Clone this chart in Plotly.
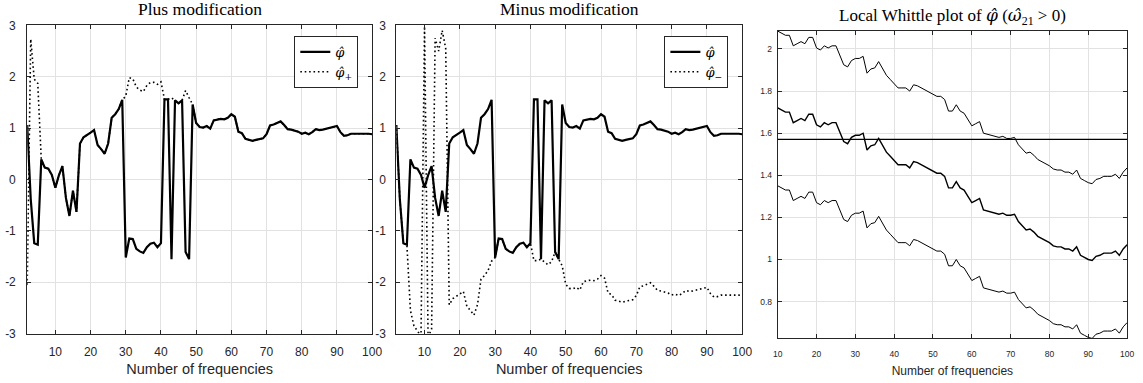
import math
import plotly.graph_objects as go

# ---------------- data ----------------
num_freq = list(range(2, 101))          # x for the first two panels
lw_freq = list(range(10, 101))          # x for the local Whittle panel

phi_hat = [
    1.06, -0.38, -1.24, -1.27, 0.39, 0.23, 0.21, 0.09, -0.16, 0.08,
    0.26, -0.36, -0.71, -0.22, -0.63, 0.70, 0.82, 0.86, 0.91, 0.96,
    0.67, 0.59, 0.50, 0.70, 1.20, 1.27, 1.37, 1.55, -1.52, -1.15,
    -1.16, -1.35, -1.40, -1.43, -1.32, -1.25, -1.23, -1.32, -1.24, 1.56,
    1.56, -1.55, 1.54, 1.48, 1.54, -1.41, -1.55, 1.46, 1.10, 1.02,
    1.01, 1.04, 0.99, 1.15, 1.17, 1.18, 1.17, 1.20, 1.27, 1.22,
    0.93, 0.90, 0.79, 0.77, 0.75, 0.77, 0.79, 0.80, 0.88, 1.05,
    1.07, 1.10, 1.13, 1.06, 0.98, 0.97, 0.95, 0.93, 0.89, 0.91,
    0.88, 0.92, 0.98, 0.96, 0.97, 0.99, 1.01, 1.03, 1.04, 0.92,
    0.85, 0.86, 0.89, 0.89, 0.89, 0.90, 0.89, 0.89, 0.88,
]

phi_plus = [
    -2.05, 2.73, 1.95, 1.87, 0.39, 0.23, 0.21, 0.09, -0.16, 0.08,
    0.26, -0.36, -0.71, -0.22, -0.63, 0.70, 0.82, 0.86, 0.91, 0.96,
    0.67, 0.59, 0.50, 0.70, 1.20, 1.27, 1.37, 1.55, 1.62, 1.98,
    1.96, 1.80, 1.74, 1.71, 1.83, 1.89, 1.89, 1.85, 1.90, 1.56,
    1.56, 1.59, 1.54, 1.48, 1.54, 1.73, 1.59, 1.46, 1.10, 1.02,
    1.01, 1.04, 0.99, 1.15, 1.17, 1.18, 1.17, 1.20, 1.27, 1.22,
    0.93, 0.90, 0.79, 0.77, 0.75, 0.77, 0.79, 0.80, 0.88, 1.05,
    1.07, 1.10, 1.13, 1.06, 0.98, 0.97, 0.95, 0.93, 0.89, 0.91,
    0.88, 0.92, 0.98, 0.96, 0.97, 0.99, 1.01, 1.03, 1.04, 0.92,
    0.85, 0.86, 0.89, 0.89, 0.89, 0.90, 0.89, 0.89, 0.88,
]

phi_minus = [
    1.06, -0.38, -1.24, -1.27, -2.55, -2.85, -2.95, -3.05, 2.98, -3.06,
    -2.92, 2.75, 2.50, 2.90, 2.55, -2.44, -2.32, -2.28, -2.23, -2.18,
    -2.47, -2.55, -2.64, -2.44, -1.94, -1.87, -1.77, -1.59, -1.52, -1.15,
    -1.16, -1.35, -1.40, -1.43, -1.32, -1.25, -1.23, -1.32, -1.24, -1.58,
    -1.58, -1.55, -1.60, -1.66, -1.60, -1.41, -1.55, -1.68, -2.04, -2.12,
    -2.13, -2.10, -2.15, -1.99, -1.97, -1.96, -1.97, -1.94, -1.87, -1.92,
    -2.21, -2.24, -2.35, -2.37, -2.39, -2.37, -2.35, -2.34, -2.26, -2.09,
    -2.07, -2.04, -2.01, -2.08, -2.16, -2.17, -2.19, -2.21, -2.25, -2.23,
    -2.26, -2.22, -2.16, -2.18, -2.17, -2.15, -2.13, -2.11, -2.10, -2.22,
    -2.29, -2.28, -2.25, -2.25, -2.25, -2.24, -2.25, -2.25, -2.26,
]

lw_estimate = [
    1.72, 1.71, 1.70, 1.70, 1.65, 1.66, 1.67, 1.66, 1.69, 1.69,
    1.64, 1.63, 1.65, 1.64, 1.65, 1.65, 1.60, 1.56, 1.55, 1.58,
    1.59, 1.59, 1.60, 1.52, 1.54, 1.545, 1.575, 1.54, 1.51, 1.49,
    1.47, 1.45, 1.45, 1.45, 1.435, 1.465, 1.46, 1.45, 1.44, 1.43,
    1.42, 1.41, 1.41, 1.395, 1.34, 1.34, 1.37, 1.34, 1.33, 1.30,
    1.27, 1.28, 1.29, 1.235, 1.23, 1.225, 1.22, 1.215, 1.22, 1.21,
    1.21, 1.215, 1.18, 1.16, 1.14, 1.145, 1.13, 1.11, 1.10, 1.09,
    1.08, 1.065, 1.06, 1.06, 1.05, 1.05, 1.04, 1.06, 1.02, 1.01,
    1.00, 0.995, 1.015, 1.02, 1.03, 1.03, 1.03, 1.04, 1.02, 1.05,
    1.07,
]

lw_upper = [
    2.085, 2.075, 2.065, 2.065, 2.015, 2.025, 2.035, 2.025, 2.055, 2.055,
    2.005, 1.995, 2.015, 2.005, 2.015, 2.015, 1.965, 1.925, 1.915, 1.945,
    1.955, 1.955, 1.965, 1.885, 1.905, 1.91, 1.94, 1.905, 1.875, 1.855,
    1.835, 1.815, 1.815, 1.815, 1.80, 1.83, 1.825, 1.815, 1.805, 1.795,
    1.785, 1.775, 1.775, 1.76, 1.705, 1.705, 1.735, 1.705, 1.695, 1.665,
    1.635, 1.645, 1.655, 1.60, 1.595, 1.59, 1.585, 1.58, 1.585, 1.575,
    1.575, 1.58, 1.545, 1.525, 1.505, 1.51, 1.495, 1.475, 1.465, 1.455,
    1.445, 1.43, 1.425, 1.425, 1.415, 1.415, 1.405, 1.425, 1.385, 1.375,
    1.365, 1.36, 1.38, 1.385, 1.395, 1.395, 1.395, 1.405, 1.385, 1.415,
    1.435,
]

lw_lower = [
    1.35, 1.34, 1.33, 1.33, 1.28, 1.29, 1.30, 1.29, 1.32, 1.32,
    1.27, 1.26, 1.28, 1.27, 1.28, 1.28, 1.23, 1.19, 1.18, 1.21,
    1.22, 1.22, 1.23, 1.15, 1.17, 1.175, 1.205, 1.17, 1.14, 1.12,
    1.10, 1.08, 1.08, 1.08, 1.065, 1.095, 1.09, 1.08, 1.07, 1.06,
    1.05, 1.04, 1.04, 1.025, 0.97, 0.97, 1.00, 0.97, 0.96, 0.93,
    0.90, 0.91, 0.92, 0.865, 0.86, 0.855, 0.85, 0.845, 0.85, 0.84,
    0.84, 0.845, 0.81, 0.79, 0.77, 0.775, 0.76, 0.74, 0.73, 0.72,
    0.71, 0.695, 0.69, 0.69, 0.68, 0.68, 0.67, 0.69, 0.65, 0.64,
    0.63, 0.625, 0.645, 0.65, 0.66, 0.66, 0.66, 0.67, 0.65, 0.68,
    0.70,
]

reference_level = math.pi / 2

phase_ticks = [-3, -2, -1, 0, 1, 2, 3]
phase_tick_text = ["-3", "-2", "-1", "0", "1", "2", "3"]
freq_ticks = [10, 20, 30, 40, 50, 60, 70, 80, 90, 100]
lw_y_ticks = [0.8, 1.0, 1.2, 1.4, 1.6, 1.8, 2.0]
lw_y_text = ["0.8", "1", "1.2", "1.4", "1.6", "1.8", "2"]

MATH = "font-family:DejaVu Serif"
phi_txt = f'<span style="{MATH}"><i>φ\u0302</i></span>'
omega_txt = f'<span style="{MATH}"><i>ω\u0302</i></span>'
titles = ["Plus modification", "Minus modification",
          f"Local Whittle plot of {phi_txt} ({omega_txt}<sub>21</sub> > 0)"]
legend_names = [f"<i>φ\u0302</i>", f"<i>φ\u0302</i><sub>+</sub>", f"<i>φ\u0302</i><sub>−</sub>"]
x_label = "Number of frequencies"

# ---------------- styling ----------------
W, H = 1143, 383
AX = "#262626"
GRID = "#e2e2e2"
SANS = "Liberation Sans, Arial, sans-serif"
SERIF = "Liberation Serif, Times New Roman, serif"
MATHFONT = "DejaVu Serif, serif"
DOT = "1.6px,2.8px"

def px_x(p):
    return p / W

def px_y(p):
    return 1 - p / H

fig = go.Figure()

# panel 1
fig.add_trace(go.Scatter(x=num_freq, y=phi_hat, mode="lines", name=legend_names[0],
                         line=dict(color="black", width=2.2), xaxis="x", yaxis="y", legend="legend"))
fig.add_trace(go.Scatter(x=num_freq, y=phi_plus, mode="lines", name=legend_names[1],
                         line=dict(color="black", width=1.6, dash=DOT), xaxis="x", yaxis="y", legend="legend"))
# panel 2
fig.add_trace(go.Scatter(x=num_freq, y=phi_hat, mode="lines", name=legend_names[0],
                         line=dict(color="black", width=2.2), xaxis="x2", yaxis="y2", legend="legend2"))
fig.add_trace(go.Scatter(x=num_freq, y=phi_minus, mode="lines", name=legend_names[2],
                         line=dict(color="black", width=1.6, dash=DOT), xaxis="x2", yaxis="y2", legend="legend2"))
# panel 3
fig.add_trace(go.Scatter(x=lw_freq, y=lw_upper, mode="lines", showlegend=False,
                         line=dict(color="black", width=1.0), xaxis="x3", yaxis="y3"))
fig.add_trace(go.Scatter(x=lw_freq, y=lw_estimate, mode="lines", showlegend=False,
                         line=dict(color="black", width=1.4), xaxis="x3", yaxis="y3"))
fig.add_trace(go.Scatter(x=lw_freq, y=lw_lower, mode="lines", showlegend=False,
                         line=dict(color="black", width=1.0), xaxis="x3", yaxis="y3"))

fig.add_shape(type="line", xref="x3 domain", yref="y3", x0=0, x1=1,
              y0=reference_level, y1=reference_level, line=dict(color="black", width=1.4))

def xaxis(domain, rng, anchor, fsize, tfsize, labstand, standoff):
    return dict(domain=domain, range=rng, anchor=anchor, tickvals=freq_ticks,
                ticks="inside", ticklen=4, tickcolor=AX, showline=True, linecolor=AX,
                linewidth=1, mirror="allticks", showgrid=True, gridcolor=GRID, gridwidth=1,
                zeroline=False, tickfont=dict(family=SANS, size=fsize, color=AX),
                ticklabelstandoff=labstand,
                title=dict(text=x_label, font=dict(family=SANS, size=tfsize, color=AX),
                           standoff=standoff))

def yaxis(domain, rng, anchor, vals, text, fsize, labstand):
    return dict(domain=domain, range=rng, anchor=anchor, tickvals=vals, ticktext=text,
                ticks="inside", ticklen=4, tickcolor=AX, showline=True, linecolor=AX,
                linewidth=1, mirror="allticks", showgrid=True, gridcolor=GRID, gridwidth=1,
                zeroline=False, tickfont=dict(family=SANS, size=fsize, color=AX),
                ticklabelstandoff=labstand)

d1 = [px_x(22.5), px_x(372)]
d2 = [px_x(396.5), px_x(747)]
d3 = [px_x(783), px_x(1137)]
yd12 = [px_y(339), px_y(19)]
yd3 = [px_y(344), px_y(25)]

legend_style = dict(xanchor="right", yanchor="top", bgcolor="white", bordercolor=AX,
                    borderwidth=1, font=dict(family=MATHFONT, size=13, color="black"),
                    tracegroupgap=0, itemwidth=30)

fig.update_layout(
    width=W, height=H,
    margin=dict(l=0, r=0, t=0, b=0),
    paper_bgcolor="white", plot_bgcolor="white",
    xaxis=xaxis(d1, [2, 100], "y", 12, 14.5, 7, 5),
    yaxis=yaxis(yd12, [-3, 3], "x", phase_ticks, phase_tick_text, 12, 8),
    xaxis2=xaxis(d2, [2, 100], "y2", 12, 14.5, 7, 5),
    yaxis2=yaxis(yd12, [-3, 3], "x2", phase_ticks, phase_tick_text, 12, 7),
    xaxis3=xaxis(d3, [10, 100], "y3", 8.5, 12, 7, 8),
    yaxis3=yaxis(yd3, [min(lw_lower), max(lw_upper)], "x3", lw_y_ticks, lw_y_text, 8.5, 3),
    legend=dict(x=px_x(358), y=px_y(30), **legend_style),
    legend2=dict(x=px_x(733), y=px_y(30), **legend_style),
    showlegend=True,
)

centers = [(d1[0] + d1[1]) / 2, (d2[0] + d2[1]) / 2, (d3[0] + d3[1]) / 2]
title_base = [px_y(10), px_y(10), px_y(20)]
title_size = [17.5, 17.5, 17]
for c, t, ty, ts in zip(centers, titles, title_base, title_size):
    fig.add_annotation(x=c, y=ty, xref="paper", yref="paper", text=t, showarrow=False,
                       xanchor="center", yanchor="bottom", yshift=-4,
                       font=dict(family=SERIF, size=ts, color="black"))

fig.write_html("out.html")
